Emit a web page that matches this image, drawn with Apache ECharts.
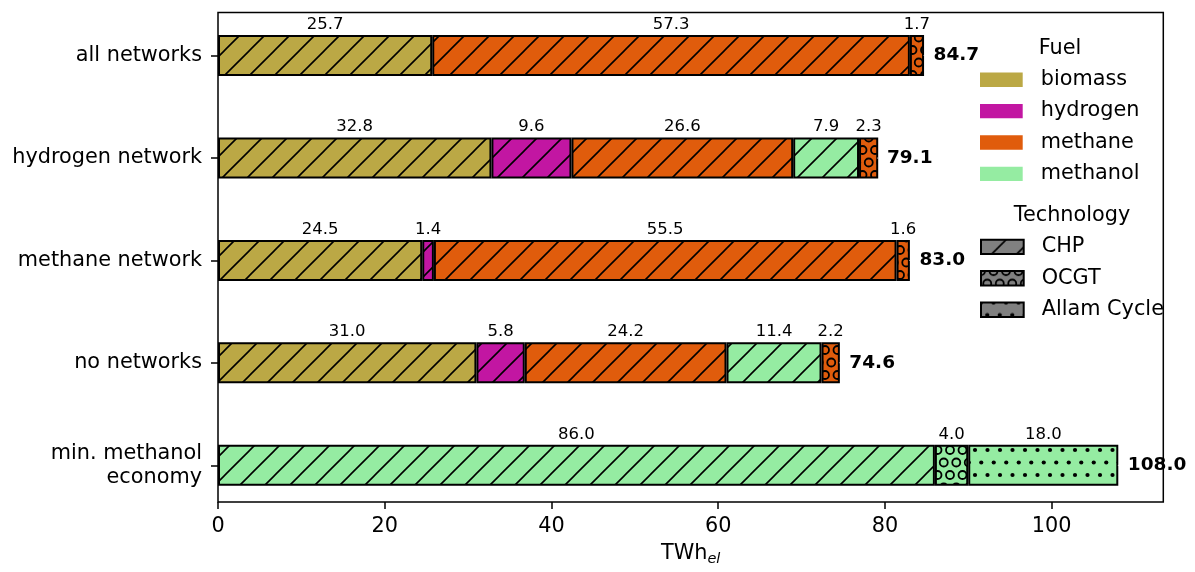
<!DOCTYPE html>
<html><head><meta charset="utf-8">
<script src="https://cdn.jsdelivr.net/npm/echarts@6/dist/echarts.min.js"></script>
<style>html,body{margin:0;padding:0;background:#fff}#c{width:1195px;height:572px}</style>
</head><body><div id="c"></div>
<script>
// ---- data ----
const categories = ['all networks', 'hydrogen network', 'methane network', 'no networks', 'min. methanol\neconomy'];
const biomassCHP   = [25.7, 32.8, 24.5, 31.0, null];
const hydrogenCHP  = [null, 9.6, 1.4, 5.8, null];
const methaneCHP   = [57.3, 26.6, 55.5, 24.2, null];
const methanolCHP  = [null, 7.9, null, 11.4, 86.0];
const methaneOCGT  = [1.7, 2.3, 1.6, 2.2, null];
const methanolOCGT = [null, null, null, null, 4.0];
const methanolAllam= [null, null, null, null, 18.0];
const totals       = [84.7, 79.1, 83.0, 74.6, 108.0];
const fuelNames = ['biomass', 'hydrogen', 'methane', 'methanol'];
const techNames = ['CHP', 'OCGT', 'Allam Cycle'];

// ---- styles ----
const FONT = 'DejaVu Sans';
const COL = { biomass: '#bba845', hydrogen: '#c216a2', methane: '#e05c0c', methanol: '#95eca2', grey: '#808080' };

function pattern(bg, kind) {
  const c = document.createElement('canvas'); c.width = 25; c.height = 25;
  const g = c.getContext('2d');
  g.fillStyle = bg; g.fillRect(0, 0, 25, 25);
  g.strokeStyle = '#000'; g.fillStyle = '#000'; g.lineWidth = 1.6;
  if (kind === 'CHP') {
    g.beginPath();
    g.moveTo(-5, 30); g.lineTo(30, -5);
    g.moveTo(-6, 6); g.lineTo(6, -6);
    g.moveTo(19, 31); g.lineTo(31, 19);
    g.stroke();
  } else {
    const base = [[0, 0], [12.5, 0], [6.25, 12.5], [18.75, 12.5]];
    for (const [bx, by] of base) for (const dx of [-25, 0, 25]) for (const dy of [-25, 0, 25]) {
      g.beginPath();
      if (kind === 'OCGT') { g.lineWidth = 1.8; g.arc(bx + dx, by + dy, 4, 0, Math.PI * 2); g.stroke(); }
      else { g.arc(bx + dx, by + dy, 2.1, 0, Math.PI * 2); g.fill(); }
    }
  }
  return { image: c, repeat: 'repeat' };
}

const labelStyle = {
  show: true, position: 'top', distance: 2, fontFamily: FONT, fontSize: 16.5, color: '#000',
  formatter: p => (p.value == null ? '' : Number(p.value).toFixed(1))
};
function barSeries(name, data, fuel, tech) {
  return {
    name, type: 'bar', stack: 'total', data, barWidth: 41, xAxisIndex: 0, yAxisIndex: 0,
    itemStyle: { color: pattern(COL[fuel], tech), borderColor: '#000', borderWidth: 2 },
    label: labelStyle, emphasis: { disabled: true }, animation: false
  };
}

const series = [
  barSeries('biomass', biomassCHP, 'biomass', 'CHP'),
  barSeries('hydrogen', hydrogenCHP, 'hydrogen', 'CHP'),
  barSeries('methane', methaneCHP, 'methane', 'CHP'),
  barSeries('methanol', methanolCHP, 'methanol', 'CHP'),
  barSeries('methane OCGT', methaneOCGT, 'methane', 'OCGT'),
  barSeries('methanol OCGT', methanolOCGT, 'methanol', 'OCGT'),
  barSeries('methanol Allam Cycle', methanolAllam, 'methanol', 'Allam'),
  // legend-only entries for technologies
  ...techNames.map(t => ({ name: t, type: 'bar', stack: 'total', data: [], xAxisIndex: 0, yAxisIndex: 0,
      itemStyle: { color: pattern(COL.grey, t === 'Allam Cycle' ? 'Allam' : t), borderColor: '#000', borderWidth: 1.8 } })),
  {
    name: 'total', type: 'scatter', xAxisIndex: 0, yAxisIndex: 0,
    data: totals.map((v, i) => [v, i]),
    symbol: 'circle', symbolSize: 1, itemStyle: { color: '#fff', opacity: 1 }, animation: false, z: 10,
    emphasis: { disabled: true },
    label: { show: true, position: 'right', distance: 9, fontFamily: FONT, fontSize: 18.5, fontWeight: 'bold', color: '#000', opacity: 1,
      formatter: p => Number(p.value[0]).toFixed(1) }
  }
];

const chart = echarts.init(document.getElementById('c'), null, { renderer: 'canvas' });
chart.setOption({
  animation: false,
  backgroundColor: '#fff',
  textStyle: { fontFamily: FONT },
  grid: [
    { left: 218, right: 31.7, top: 4.3, bottom: 55.5, show: false },
    { left: 218, right: 31.7, top: 12.5, bottom: 64.3, show: true, borderColor: '#000', borderWidth: 1.5, backgroundColor: 'transparent', z: 3 }
  ],
  xAxis: [
    { gridIndex: 0, type: 'value', min: 0, max: 113.4, show: false },
    { gridIndex: 1, type: 'value', min: 0, max: 113.4, interval: 20,
      axisLine: { show: false }, splitLine: { show: false },
      axisTick: { show: true, inside: false, length: 7, lineStyle: { color: '#000', width: 1.5 } },
      axisLabel: { show: true, margin: 14.6, fontFamily: FONT, fontSize: 20.8, color: '#000', showMaxLabel: false },
      name: 'TWh{sub|el}', nameLocation: 'middle', nameGap: 38,
      nameTextStyle: { fontFamily: FONT, fontSize: 20.8, color: '#000',
        rich: { sub: { fontFamily: FONT, fontSize: 14.5, fontStyle: 'italic', color: '#000', padding: [12, 0, 0, 0] } } } }
  ],
  yAxis: [
    { gridIndex: 0, type: 'category', data: categories, inverse: true,
      axisLine: { show: false }, splitLine: { show: false },
      axisTick: { show: true, alignWithLabel: true, inside: false, length: 7, lineStyle: { color: '#000', width: 1.5 } },
      axisLabel: { margin: 16, fontFamily: FONT, fontSize: 20.8, color: '#000', lineHeight: 24 } },
    { gridIndex: 1, type: 'value', min: 0, max: 1, show: false }
  ],
  legend: [
    { orient: 'vertical', left: 980, top: 69.2, padding: 0, itemWidth: 42.7, itemHeight: 14.4, itemGap: 10.4,
      icon: 'rect', selectedMode: false,
      textStyle: { fontFamily: FONT, fontSize: 20.8, color: '#000', padding: [0, 0, 0, 13] },
      data: fuelNames.map(n => ({ name: n, icon: 'rect', itemStyle: { color: COL[n], borderWidth: 0 } })) },
    { orient: 'vertical', left: 980, top: 236.4, padding: 0, itemWidth: 42.7, itemHeight: 14.4, itemGap: 10.4,
      icon: 'rect', selectedMode: false,
      textStyle: { fontFamily: FONT, fontSize: 20.8, color: '#000', padding: [0, 0, 0, 13] },
      data: techNames.map(n => ({ name: n, icon: 'rect' })) }
  ],
  graphic: [
    { type: 'text', x: 1060, y: 49, style: { text: 'Fuel', font: '20.8px "DejaVu Sans"', fill: '#000', textAlign: 'center', textVerticalAlign: 'middle' } },
    { type: 'text', x: 1072, y: 215.7, style: { text: 'Technology', font: '20.8px "DejaVu Sans"', fill: '#000', textAlign: 'center', textVerticalAlign: 'middle' } }
  ],
  series
});
</script>
</body></html>
